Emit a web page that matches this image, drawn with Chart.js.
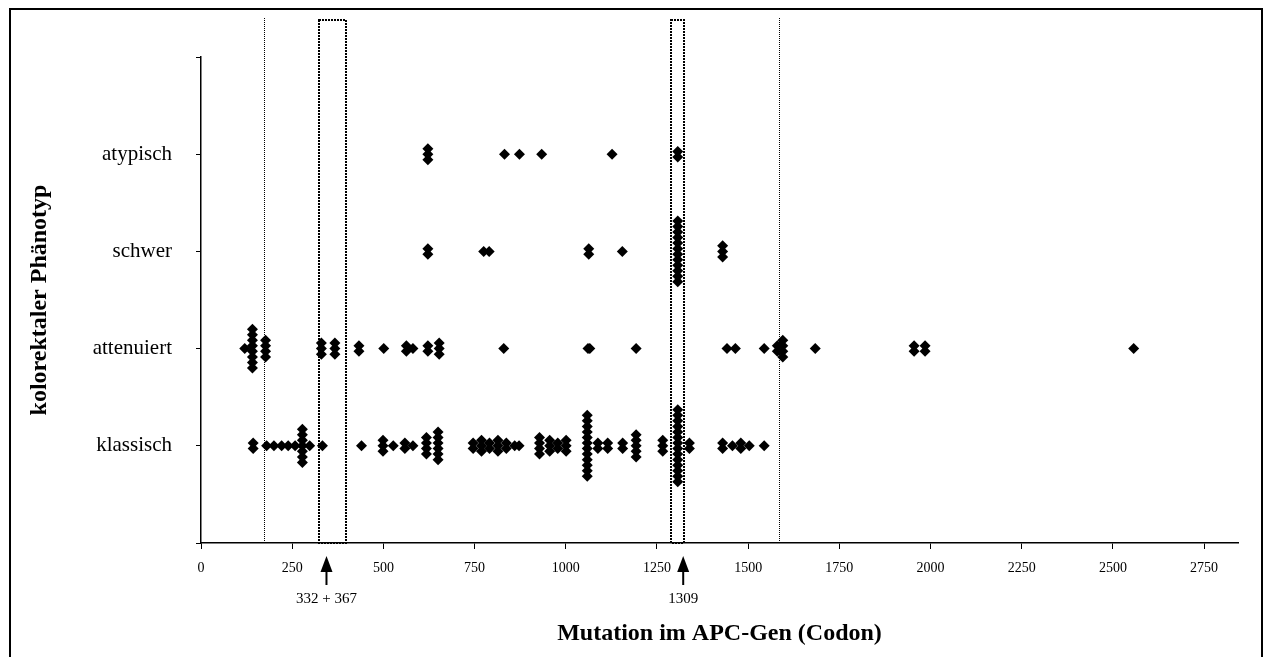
<!DOCTYPE html>
<html><head><meta charset="utf-8">
<script src="https://cdn.jsdelivr.net/npm/chart.js@4.4.0/dist/chart.umd.min.js"></script>
<style>html,body{margin:0;padding:0;background:#fff;}#wrap{position:relative;width:1265px;height:657px;}</style>
</head><body><div id="wrap"><canvas id="c" width="1265" height="657"></canvas></div>
<script>
// ---- data ----
const categories = ['klassisch', 'attenuiert', 'schwer', 'atypisch'];
const xTickValues = [0, 250, 500, 750, 1000, 1250, 1500, 1750, 2000, 2250, 2500, 2750];

const klassischCodons = [143, 180, 200, 221, 239, 258, 278, 298, 333, 440, 499, 527, 559, 581, 618, 650, 746, 769, 791, 814, 837, 860, 872, 928, 956, 978, 1001, 1059, 1088, 1115, 1156, 1193, 1266, 1307, 1339, 1430, 1457, 1480, 1503, 1544];
const klassischCounts = [2, 1, 1, 1, 1, 1, 7, 1, 1, 1, 3, 1, 2, 1, 4, 6, 2, 3, 2, 3, 2, 1, 1, 4, 3, 2, 3, 12, 2, 2, 2, 5, 3, 14, 2, 2, 1, 2, 1, 1];

const attenuiertCodons = [120, 141, 177, 330, 367, 433, 501, 563, 581, 622, 653, 830, 1061, 1066, 1193, 1442, 1465, 1544, 1580, 1595, 1684, 1955, 1985, 2557];
const attenuiertCounts = [1, 8, 4, 3, 3, 2, 1, 2, 1, 2, 3, 1, 1, 1, 1, 1, 1, 1, 2, 4, 1, 2, 2, 1];

const schwerCodons = [622, 775, 790, 1063, 1155, 1307, 1430];
const schwerCounts = [2, 1, 1, 2, 1, 12, 3];

const atypischCodons = [622, 832, 873, 934, 1127, 1307];
const atypischCounts = [3, 1, 1, 1, 1, 2];

const markerLines = [172, 1585];                 // dotted vertical lines (codon)
const markerBoxes = [[323, 397], [1289, 1325]];  // dotted boxes (codon range)
const arrowCodons = [344, 1322];
const arrowLabels = ['332 + 367', '1309'];

// ---- build ----
const STACK = 0.057;
function pts(codons, counts, row) {
  const out = [];
  codons.forEach((c, i) => {
    const n = counts[i];
    for (let j = 0; j < n; j++) out.push({ x: c, y: row + (j - (n - 1) / 2) * STACK });
  });
  return out;
}
const rows = [
  [klassischCodons, klassischCounts],
  [attenuiertCodons, attenuiertCounts],
  [schwerCodons, schwerCounts],
  [atypischCodons, atypischCounts]
];
const datasets = rows.map((r, i) => ({
  label: categories[i],
  data: pts(r[0], r[1], i + 1),
  pointStyle: 'rectRot',
  pointRadius: 5.5,
  pointHoverRadius: 5.5,
  backgroundColor: '#000',
  borderColor: '#000',
  borderWidth: 0,
  showLine: false
}));

const SERIF = "'Liberation Serif', 'Times New Roman', serif";

const overlay = {
  id: 'overlay',
  afterDraw(chart) {
    const { ctx, scales: { x }, chartArea: ca } = chart;
    ctx.save();
    ctx.strokeStyle = '#000';
    ctx.lineWidth = 1;
    ctx.setLineDash([1, 1]);
    markerLines.forEach(c => {
      const px = Math.round(x.getPixelForValue(c)) + 0.5;
      ctx.beginPath(); ctx.moveTo(px, 18); ctx.lineTo(px, ca.bottom); ctx.stroke();
    });
    ctx.lineWidth = 2;
    ctx.setLineDash([2, 1]);
    markerBoxes.forEach(b => {
      const x0 = Math.round(x.getPixelForValue(b[0]));
      const x1 = Math.round(x.getPixelForValue(b[1]));
      ctx.strokeRect(x0, 20, x1 - x0, ca.bottom - 20);
    });
    ctx.setLineDash([]);
    ctx.fillStyle = '#000';
    ctx.lineWidth = 2;
    arrowCodons.forEach((c, i) => {
      const px = x.getPixelForValue(c);
      ctx.beginPath(); ctx.moveTo(px, 565); ctx.lineTo(px, 585); ctx.stroke();
      ctx.beginPath(); ctx.moveTo(px, 556); ctx.lineTo(px - 6, 572); ctx.lineTo(px + 6, 572); ctx.closePath(); ctx.fill();
      ctx.font = '15px ' + SERIF;
      ctx.textAlign = 'center'; ctx.textBaseline = 'middle';
      ctx.fillText(arrowLabels[i], px, 599);
    });
    ctx.font = 'bold 24px ' + SERIF;
    ctx.textAlign = 'center'; ctx.textBaseline = 'middle';
    ctx.fillText('Mutation im APC-Gen (Codon)', (ca.left + ca.right) / 2, 634);
    ctx.save();
    ctx.translate(40, 300);
    ctx.rotate(-Math.PI / 2);
    ctx.fillText('kolorektaler Phänotyp', 0, 0);
    ctx.restore();
    ctx.lineWidth = 2;
    ctx.beginPath();
    ctx.moveTo(10, 660); ctx.lineTo(10, 9); ctx.lineTo(1262, 9); ctx.lineTo(1262, 660);
    ctx.stroke();
    ctx.restore();
  }
};

new Chart(document.getElementById('c'), {
  type: 'scatter',
  data: { datasets },
  plugins: [overlay],
  options: {
    responsive: false,
    animation: false,
    devicePixelRatio: 1,
    layout: { padding: { top: 57, right: 27, left: 0, bottom: 0 } },
    plugins: { legend: { display: false }, tooltip: { enabled: false } },
    scales: {
      x: {
        type: 'linear', min: 0, max: 2843,
        afterBuildTicks: s => { s.ticks = xTickValues.map(v => ({ value: v })); },
        afterFit: s => { s.height = 114; },
        grid: { drawOnChartArea: false, drawTicks: true, tickLength: 6, color: '#000', lineWidth: 1 },
        border: { color: '#000', width: 1.5 },
        ticks: { color: '#000', font: { family: SERIF, size: 14 }, padding: 11, maxRotation: 0, autoSkip: false,
                 callback: v => String(v) }
      },
      y: {
        type: 'linear', min: 0, max: 5,
        afterBuildTicks: s => { s.ticks = [0, 1, 2, 3, 4, 5].map(v => ({ value: v })); },
        afterFit: s => { s.width = 201; },
        grid: { drawOnChartArea: false, drawTicks: true, tickLength: 5, color: '#000', lineWidth: 1 },
        border: { color: '#000', width: 1.5 },
        ticks: {
          color: '#000', font: { family: SERIF, size: 21 }, padding: 24,
          callback: v => categories[v - 1] || ''
        }
      }
    }
  }
});
</script></body></html>
